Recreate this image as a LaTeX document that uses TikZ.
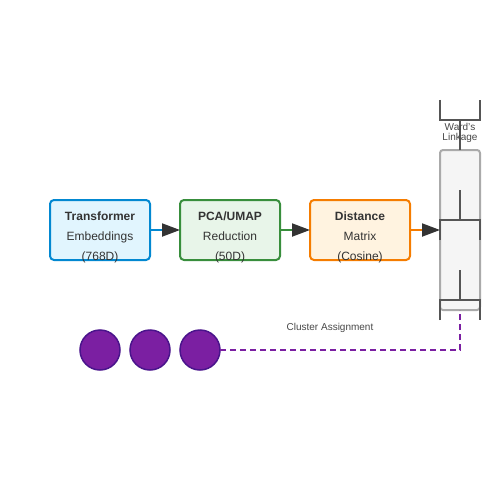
\documentclass[tikz,border=0pt]{standalone}
\usepackage{fontspec}
\setmainfont{Liberation Sans}
\usetikzlibrary{arrows.meta}
\definecolor{tblue}{HTML}{0288D1}
\definecolor{tbluef}{HTML}{E1F5FE}
\definecolor{tgreen}{HTML}{388E3C}
\definecolor{tgreenf}{HTML}{E8F5E9}
\definecolor{torange}{HTML}{F57C00}
\definecolor{torangef}{HTML}{FFF3E0}
\definecolor{tdark}{HTML}{333333}
\definecolor{tline}{HTML}{555555}
\definecolor{tpurple}{HTML}{7B1FA2}
\definecolor{tpurpled}{HTML}{4A148C}
\definecolor{tgrayf}{HTML}{F5F5F5}
\definecolor{tgrays}{HTML}{AAAAAA}
\tikzset{
  stage/.style={draw=#1, line width=2pt, rounded corners=4pt, minimum width=100pt, minimum height=60pt, inner sep=0pt, outer sep=0pt},
  boxtxt/.style={anchor=base, inner sep=0pt, text=tdark, font=\fontsize{12}{14}\selectfont},
  flow/.style={line width=2pt, -{Triangle[length=18pt,width=13pt,color=tdark]}},
  dendro/.style={draw=tline, line width=2pt},
  leaf/.style={circle, fill=tpurple, draw=tpurpled, line width=1.5pt, minimum size=40pt, inner sep=0pt, outer sep=0pt},
  small/.style={inner sep=0pt, text=tdark!90, font=\fontsize{10}{10}\selectfont, anchor=base}
}
\begin{document}
\begin{tikzpicture}[x=1pt,y=-1pt]
\useasboundingbox (0,0) rectangle (500,500);
% stage boxes
\node[stage=tblue, fill=tbluef] (b1) at (100,230) {};
\node[stage=tgreen, fill=tgreenf] (b2) at (230,230) {};
\node[stage=torange, fill=torangef] (b3) at (360,230) {};
\node[boxtxt] (b1a) at (100,220.5) {\bfseries Transformer};
\node[boxtxt] (b1b) at (100,240.5) {Embeddings};
\node[boxtxt] (b1c) at (100,260.5) {(768D)};
\node[boxtxt] (b2a) at (230,220.5) {\bfseries PCA/UMAP};
\node[boxtxt] (b2b) at (230,240.5) {Reduction};
\node[boxtxt] (b2c) at (230,260.5) {(50D)};
\node[boxtxt] (b3a) at (360,220.5) {\bfseries Distance};
\node[boxtxt] (b3b) at (360,240.5) {Matrix};
\node[boxtxt] (b3c) at (360,260.5) {(Cosine)};
% dendrogram panel
\node[draw=tgrays, fill=tgrayf, line width=2pt, rounded corners=3pt, minimum width=40pt, minimum height=160pt, inner sep=0pt, outer sep=0pt] (dg) at (460,230) {};
\coordinate (t1) at (440,100);
\coordinate (t2) at (480,100);
\draw[dendro] (t1) -- (440,120) -- (480,120) -- (t2);
\draw[dendro] (460,120) -- (dg.north);
\draw[dendro] (460,190) -- (460,220);
\draw[dendro] (440,240) -- (440,220) -- (480,220) -- (480,240);
\draw[dendro] (460,270) -- (460,300);
\draw[dendro] (440,320) -- (440,300) -- (480,300) -- (480,320);
\node[small] (w1) at (460,130) {Ward's};
\node[small] (w2) at (460,140) {Linkage};
% flow arrows
\draw[flow, draw=tblue] (b1.east) -- (b2.west);
\draw[flow, draw=tgreen] (b2.east) -- (b3.west);
\draw[flow, draw=torange] (b3.east) -- (dg.west);
% leaves
\node[leaf] (c1) at (100,350) {};
\node[leaf] (c2) at (150,350) {};
\node[leaf] (c3) at (200,350) {};
\draw[tpurple, line width=2pt, dash pattern=on 6pt off 4pt] (c3.east) -- (460,350) -- (dg.south);
\node[small] (ca) at (330,330) {Cluster Assignment};
\end{tikzpicture}
\end{document}
